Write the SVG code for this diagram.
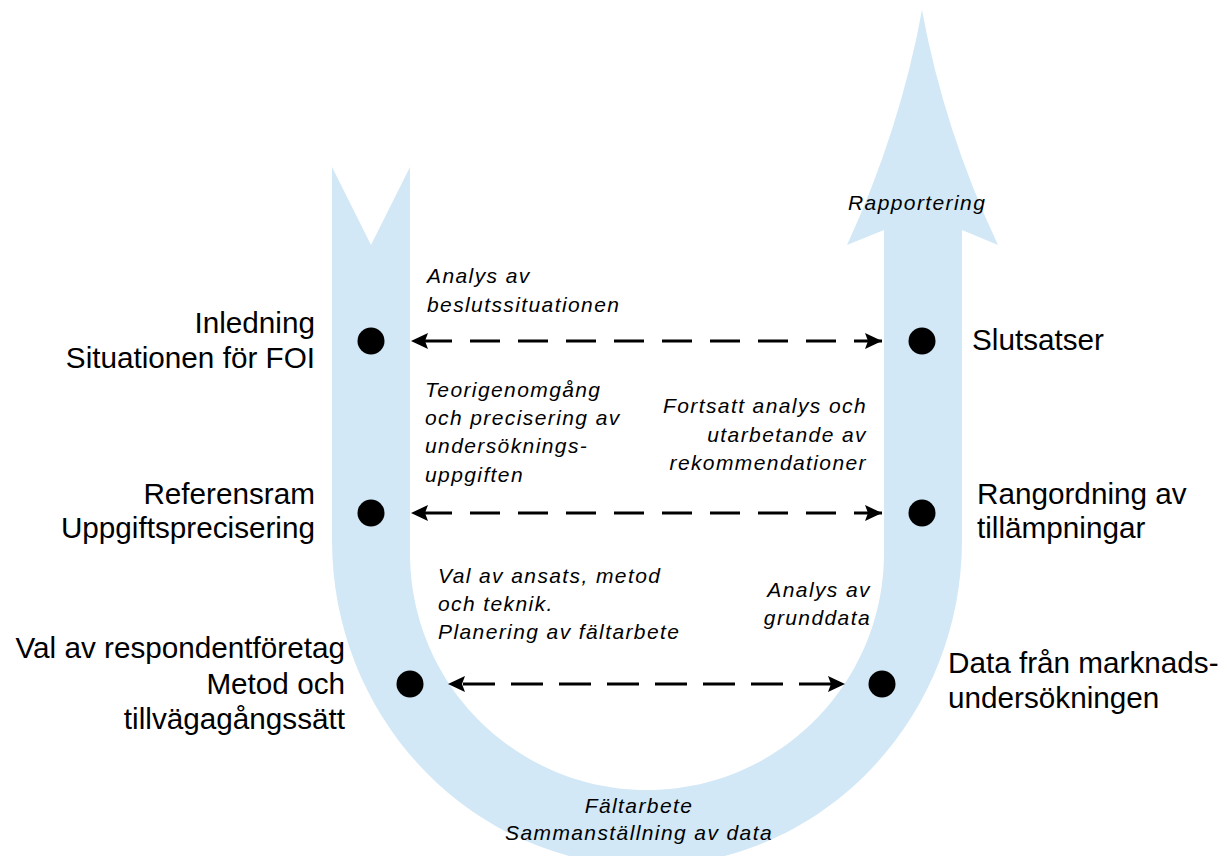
<svg xmlns="http://www.w3.org/2000/svg" width="1227" height="856" viewBox="0 0 1227 856">
  <style>
    .band { fill: #D2E8F6; stroke: none; }
    .dot { fill: #000; }
    .link { fill: none; stroke: #000; stroke-width: 3; marker-start: url(#head); marker-end: url(#head); }
    .lbl { font-family: "Liberation Sans", Arial, sans-serif; font-size: 29.7px; fill: #000; }
    .it { font-family: "Liberation Sans", Arial, sans-serif; font-size: 21px; font-style: italic; letter-spacing: 1.4px; fill: #000; }
    .end { text-anchor: end; }
    .mid { text-anchor: middle; }
  </style>
  <defs>
    <marker id="head" viewBox="0 0 17 16" refX="17" refY="8" markerWidth="17" markerHeight="16" markerUnits="userSpaceOnUse" orient="auto-start-reverse">
      <path d="M0,0 L17,8 L0,16 L3,8 Z" fill="#000"/>
    </marker>
  </defs>

  <!-- U-shaped process band: notched tail on the left, arrow head on the right -->
  <g id="process-band">
    <path class="band" d="M332,167 L371,245 L410,167 L410,553
      C410,684 516,790 647,790
      C778,790 884,684 884,553
      L884,230 L847,245 Q900,130 922,10 Q944,130 998,245 L962,230
      L962,540
      C962,720 821,866 647,866
      C473,866 332,720 332,540 Z"/>
  </g>

  <!-- Stage labels -->
  <g id="node-inledning">
    <circle class="dot" cx="371" cy="341" r="13.5"/>
    <text class="lbl end" x="315" y="333">Inledning</text>
    <text class="lbl end" x="315" y="368">Situationen för FOI</text>
  </g>
  <g id="node-referensram">
    <circle class="dot" cx="371" cy="513" r="13.5"/>
    <text class="lbl end" x="315" y="504">Referensram</text>
    <text class="lbl end" x="315" y="538">Uppgiftsprecisering</text>
  </g>
  <g id="node-metod">
    <circle class="dot" cx="410" cy="684" r="13.5"/>
    <text class="lbl end" x="345" y="658">Val av respondentföretag</text>
    <text class="lbl end" x="345" y="694">Metod och</text>
    <text class="lbl end" x="345" y="729">tillvägagångssätt</text>
  </g>
  <g id="node-slutsatser">
    <circle class="dot" cx="922" cy="341" r="13.5"/>
    <text class="lbl" x="972" y="350">Slutsatser</text>
  </g>
  <g id="node-rangordning">
    <circle class="dot" cx="922" cy="513" r="13.5"/>
    <text class="lbl" x="977" y="504">Rangordning av</text>
    <text class="lbl" x="977" y="538">tillämpningar</text>
  </g>
  <g id="node-data">
    <circle class="dot" cx="882" cy="684" r="13.5"/>
    <text class="lbl" x="948" y="673">Data från marknads-</text>
    <text class="lbl" x="948" y="708">undersökningen</text>
  </g>

  <!-- Activity captions -->
  <g id="node-rapportering">
    <text class="it" x="848" y="210">Rapportering</text>
  </g>
  <g id="node-analys-beslut">
    <text class="it" x="427" y="283">Analys av</text>
    <text class="it" x="427" y="312">beslutssituationen</text>
  </g>
  <g id="node-teori">
    <text class="it" x="425" y="397">Teorigenomgång</text>
    <text class="it" x="425" y="425">och precisering av</text>
    <text class="it" x="425" y="453">undersöknings-</text>
    <text class="it" x="425" y="482">uppgiften</text>
  </g>
  <g id="node-fortsatt">
    <text class="it end" x="867" y="413">Fortsatt analys och</text>
    <text class="it end" x="867" y="442">utarbetande av</text>
    <text class="it end" x="867" y="470">rekommendationer</text>
  </g>
  <g id="node-ansats">
    <text class="it" x="438" y="583">Val av ansats, metod</text>
    <text class="it" x="438" y="611">och teknik.</text>
    <text class="it" x="438" y="639">Planering av fältarbete</text>
  </g>
  <g id="node-analys-grunddata">
    <text class="it end" x="871" y="597">Analys av</text>
    <text class="it end" x="871" y="625">grunddata</text>
  </g>
  <g id="node-faltarbete">
    <text class="it mid" x="639" y="813">Fältarbete</text>
    <text class="it mid" x="639" y="840">Sammanställning av data</text>
  </g>

  <!-- Dashed two-way connectors between matching stages -->
  <g id="connectors">
    <path class="link" d="M411,341 H882" stroke-dasharray="30 18" stroke-dashoffset="37"/>
    <path class="link" d="M411,513 H882" stroke-dasharray="30 18" stroke-dashoffset="37"/>
    <path class="link" d="M448,684 H845" stroke-dasharray="32 16" stroke-dashoffset="33"/>
  </g>
</svg>
